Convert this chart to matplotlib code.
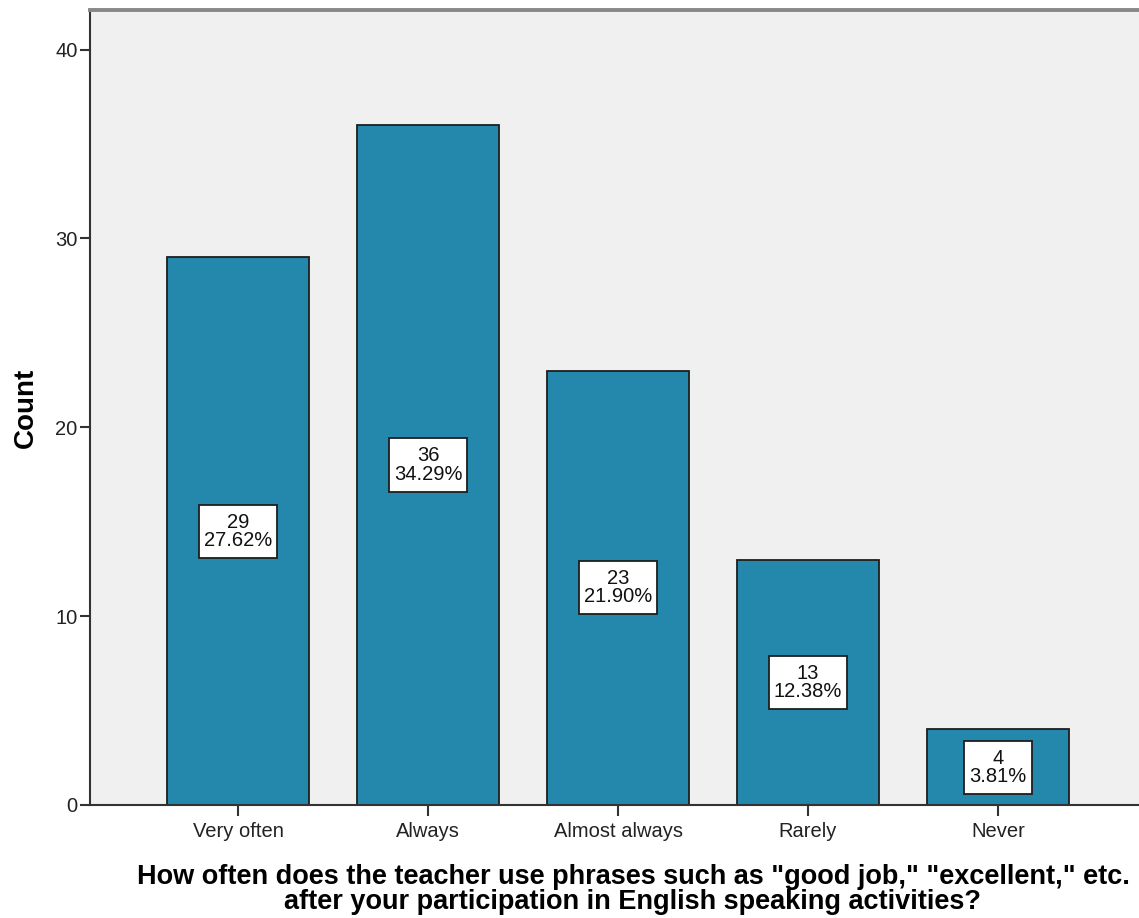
import matplotlib
matplotlib.use("Agg")
import matplotlib.pyplot as plt
from matplotlib.patches import Rectangle

plt.rcParams['font.family'] = ['Liberation Sans', 'DejaVu Sans']

categories = ["Very often", "Always", "Almost always", "Rarely", "Never"]
counts = [29, 36, 23, 13, 4]
percents = [27.62, 34.29, 21.90, 12.38, 3.81]
yticks = [0, 10, 20, 30, 40]
xlabel = ('How often does the teacher use phrases such as "good job," "excellent," etc.\n'
          'after your participation in English speaking activities?')
ylabel = "Count"

W, H = 1139, 918
fig = plt.figure(figsize=(W / 100, H / 100), dpi=100)
left, right, top, bottom = 90, 1146, 10, 805
ax = fig.add_axes([left / W, 1 - bottom / H, (right - left) / W, (bottom - top) / H])
ax.set_facecolor('#F0F0F0')

x = list(range(len(categories)))
ax.bar(x, counts, width=0.747, color='#2388AB', edgecolor='#1E1E1E', linewidth=1.3, zorder=2)

labels = []
for xi, c, p in zip(x, counts, percents):
    labels.append(ax.text(xi, c / 2, f"{c}\n{p:.2f}%", ha='center', va='center', fontsize=14.5,
                          linespacing=0.95, zorder=4, color='#111111'))

ax.set_xlim(-0.779, 4.779)
ax.set_ylim(0, 42.1)
ax.set_xticks(x)
ax.set_xticklabels(categories)
ax.set_yticks(yticks)
ax.tick_params(axis='y', labelsize=14.5, length=7, width=1.5, colors='#333333', labelcolor='#222222', pad=2)
ax.tick_params(axis='x', labelsize=14.5, length=8, width=1.5, colors='#333333', labelcolor='#222222', pad=4)

for s in ['left', 'bottom']:
    ax.spines[s].set_color('#333333')
    ax.spines[s].set_linewidth(1.5)
ax.spines['top'].set_color('#888888')
ax.spines['top'].set_linewidth(2.8)
ax.spines['right'].set_visible(False)

ax.set_xlabel(xlabel, fontsize=19.5, fontweight='bold', linespacing=0.92, labelpad=17)
ax.xaxis.label.set_x((633 - left) / (right - left))
ax.set_ylabel(ylabel, fontsize=20, fontweight='bold', labelpad=12)

# white label boxes sized from the rendered text, with extra vertical padding
fig.canvas.draw()
renderer = fig.canvas.get_renderer()
pad_x, pad_y = 5, 8
for t in labels:
    bb = t.get_window_extent(renderer)
    fig.add_artist(Rectangle((bb.x0 - pad_x, bb.y0 - pad_y), bb.width + 2 * pad_x, bb.height + 2 * pad_y,
                             transform=None, facecolor='white', edgecolor='#1E1E1E', linewidth=1.3,
                             zorder=3))
    t.remove()
    fig.add_artist(t)
    t.set_zorder(4)

fig.savefig('out.png', dpi=100)
